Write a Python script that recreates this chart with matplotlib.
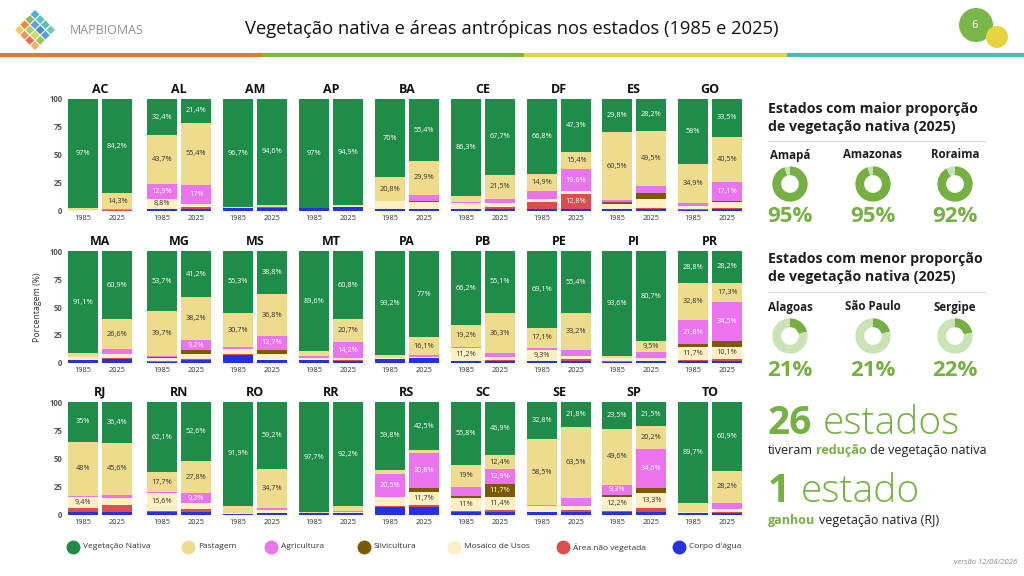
import matplotlib
matplotlib.use('Agg')
import matplotlib.pyplot as plt
from matplotlib.patches import Circle, Polygon, Rectangle
from matplotlib.lines import Line2D

plt.rcParams['font.family'] = ['Open Sans', 'DejaVu Sans']

# ---------------- data ----------------
states = ['AC', 'AL', 'AM', 'AP', 'BA', 'CE', 'DF', 'ES', 'GO',
          'MA', 'MG', 'MS', 'MT', 'PA', 'PB', 'PE', 'PI', 'PR',
          'RJ', 'RN', 'RO', 'RR', 'RS', 'SC', 'SE', 'SP', 'TO']
years = ['1985', '2025']

# stacking order bottom -> top
categories = ["Corpo d'água", 'Área não vegetada', 'Mosaico de Usos', 'Silvicultura',
              'Agricultura', 'Pastagem', 'Vegetação Nativa']
colors = ['#2532e4', '#db4d4f', '#ffefc3', '#7a5900', '#e974ed', '#eddb8e', '#1f8d49']
label_colors = ['white', 'white', '#333333', 'white', 'white', '#333333', 'white']

agua_1985 = [0.3, 1.7, 2.6, 2.5, 1.5, 1.7, 1.8, 1.5, 1.3, 2.8, 1.2, 7.5, 2.4, 3.7, 1.6, 1.7, 1.3, 2.0,
             3.0, 2.7, 1.0, 1.5, 7.2, 2.4, 2.5, 2.4, 1.4]
naoveg_1985 = [0.1, 0.5, 0.1, 0.1, 0.2, 0.5, 6.5, 0.5, 0.3, 0.3, 0.8, 0.3, 0.3, 0.2, 0.3, 0.3, 0.3, 0.9,
               3.4, 1.2, 0.2, 0.1, 1.2, 1.3, 0.4, 1.5, 0.3]
mosaico_1985 = [0.4, 8.8, 0.2, 0.2, 7.0, 5.0, 2.5, 4.2, 2.5, 2.0, 2.8, 4.4, 2.0, 0.8, 11.2, 9.3, 2.5, 11.7,
                9.4, 15.6, 0.6, 0.2, 7.5, 11.0, 5.0, 12.2, 0.8]
silv_1985 = [0, 0, 0, 0, 0, 0, 0, 2.0, 0, 0, 0.3, 0, 0, 0, 0, 0, 0, 2.0,
             0, 0, 0, 0, 0.3, 2.5, 0, 1.5, 0]
agric_1985 = [0.1, 12.9, 0, 0, 0.5, 0.5, 7.5, 1.5, 3.0, 0.2, 1.5, 1.8, 1.2, 0.1, 1.5, 2.5, 0.3, 21.8,
              1.2, 0.7, 0.3, 0, 20.5, 8.0, 0.8, 9.3, 0.3]
past_1985 = [2.1, 43.7, 0.4, 0.2, 20.8, 6.0, 14.9, 60.5, 34.9, 3.6, 39.7, 30.7, 4.5, 2.0, 19.2, 17.1, 2.0, 32.8,
             48.0, 17.7, 6.0, 0.5, 3.5, 19.0, 58.5, 49.6, 7.5]
nativa_1985 = [97.0, 32.4, 96.7, 97.0, 70.0, 86.3, 66.8, 29.8, 58.0, 91.1, 53.7, 55.3, 89.6, 93.2, 66.2, 69.1, 93.6, 28.8,
               35.0, 62.1, 91.9, 97.7, 59.8, 55.8, 32.8, 23.5, 89.7]

agua_2025 = [0.4, 1.6, 3.0, 3.2, 1.6, 2.0, 2.0, 1.5, 1.9, 3.7, 2.4, 2.4, 2.0, 4.1, 1.6, 1.7, 1.6, 2.1,
             3.0, 2.8, 1.6, 1.8, 7.2, 2.5, 2.7, 2.9, 1.9]
naoveg_2025 = [0.1, 1.8, 0.2, 0.4, 0.6, 1.5, 12.8, 1.5, 0.5, 0.5, 1.5, 0.5, 0.3, 0.3, 1.5, 1.7, 0.5, 1.8,
               5.7, 2.5, 0.5, 0.2, 1.5, 2.2, 1.5, 3.0, 0.5]
mosaico_2025 = [0.7, 2.8, 0.4, 0.5, 6.0, 3.5, 2.9, 8.0, 6.0, 3.5, 4.5, 5.3, 1.8, 1.2, 2.0, 3.0, 2.7, 10.1,
                6.0, 5.0, 2.0, 0.8, 11.7, 11.4, 4.0, 13.3, 3.0]
silv_2025 = [0, 0, 0, 0, 0.5, 0.3, 0, 5.4, 0.5, 0.3, 3.0, 3.5, 0.2, 0, 0, 0, 0, 6.0,
             0, 0, 0, 0, 3.8, 11.7, 0, 4.5, 0]
agric_2025 = [0.3, 17.0, 0.3, 0, 6.0, 3.5, 19.6, 5.9, 17.1, 4.5, 9.2, 12.7, 14.2, 1.3, 3.5, 5.0, 5.0, 34.5,
              3.3, 9.3, 2.0, 1.0, 30.8, 12.9, 6.5, 34.6, 5.5]
past_2025 = [14.3, 55.4, 1.5, 1.0, 29.9, 21.5, 15.4, 49.5, 40.5, 26.6, 38.2, 36.8, 20.7, 16.1, 36.3, 33.2, 9.5, 17.3,
             45.6, 27.8, 34.7, 4.0, 2.5, 12.4, 63.5, 20.2, 28.2]
nativa_2025 = [84.2, 21.4, 94.6, 94.9, 55.4, 67.7, 47.3, 28.2, 33.5, 60.9, 41.2, 38.8, 60.8, 77.0, 55.1, 55.4, 80.7, 28.2,
               36.4, 52.6, 59.2, 92.2, 42.5, 46.9, 21.8, 21.5, 60.9]

series_1985 = [agua_1985, naoveg_1985, mosaico_1985, silv_1985, agric_1985, past_1985, nativa_1985]
series_2025 = [agua_2025, naoveg_2025, mosaico_2025, silv_2025, agric_2025, past_2025, nativa_2025]

yticks = [0, 25, 50, 75, 100]

top_names = ['Amapá', 'Amazonas', 'Roraima']
top_values = [95, 95, 92]
low_names = ['Alagoas', 'São Paulo', 'Sergipe']
low_values = [21, 21, 22]

# ---------------- figure ----------------
W, H = 1024, 576
fig = plt.figure(figsize=(W / 100, H / 100), dpi=100)
fig.patch.set_facecolor('white')
renderer = fig.canvas.get_renderer()

bg = fig.add_axes([0, 0, 1, 1], zorder=0)
bg.set_xlim(0, W)
bg.set_ylim(H, 0)
bg.axis('off')
bg.patch.set_alpha(0)


def fx(x):
    return x / W


def fy(y):
    return 1 - y / H


def fmt(v):
    if abs(v - round(v)) < 1e-9:
        return f'{int(round(v))}%'
    return f'{v:.1f}'.replace('.', ',') + '%'


# ---------- header ----------
logo_cols = ['#3aa7d8', '#7ab648', '#e8792b', '#f2c94c', '#3fbfb5', '#5b8fd1',
             '#9ccc65', '#f08a4b', '#4db6ac', '#2f80c7', '#c9d84a', '#e85d3b',
             '#66c2a5', '#3d9ad1', '#8bc34a', '#f4a261']
k = 0
for i in range(4):
    for j in range(4):
        cx = 35 + (i - j) * 5.2
        cy = 30 + (i + j - 3) * 5.2
        d = 4.8
        bg.add_patch(Polygon([[cx, cy - d], [cx + d, cy], [cx, cy + d], [cx - d, cy]],
                             closed=True, facecolor=logo_cols[k], edgecolor='white', lw=0.4, alpha=0.9))
        k += 1
bg.text(70, 31, 'MAPBIOMAS', fontsize=9, color='#8f8f8f', va='center', ha='left')
bg.text(512, 29, 'Vegetação nativa e áreas antrópicas nos estados (1985 e 2025)',
        fontsize=13.2, color='#111111', va='center', ha='center')
bg.add_patch(Circle((976, 25), 17, facecolor='#7ab648', edgecolor='none'))
bg.add_patch(Circle((997, 37), 11, facecolor='#e6d43c', edgecolor='none'))
bg.text(975, 25, '6', fontsize=8, color='white', ha='center', va='center')
for x0, x1, c in [(0, 262, '#e8792b'), (262, 524, '#7ab648'), (524, 787, '#e6d43c'), (787, 1024, '#3fbfb5')]:
    bg.add_patch(Rectangle((x0, 53), x1 - x0, 4, facecolor=c, edgecolor='none'))

# ---------- panels ----------
lefts = [68, 147, 223, 299, 375, 451, 527, 602, 678]
tops = [99, 251, 402]
bots = [211, 363, 515]
pw = 64
for i, st in enumerate(states):
    r, c = divmod(i, 9)
    ax = fig.add_axes([fx(lefts[c]), fy(bots[r]), pw / W, (bots[r] - tops[r]) / H], zorder=2)
    base = [0.0, 0.0]
    for kc in range(len(categories)):
        v = [series_1985[kc][i], series_2025[kc][i]]
        ax.bar([0, 1], v, bottom=base, width=0.86, color=colors[kc], linewidth=0)
        for j in range(2):
            if v[j] >= 8.5:
                ax.text(j, base[j] + v[j] / 2, fmt(v[j]), ha='center', va='center',
                        fontsize=5.3, color=label_colors[kc])
        base = [base[0] + v[0], base[1] + v[1]]
    ax.set_xlim(-0.43, 1.43)
    ax.set_ylim(0, 100)
    for s in ax.spines.values():
        s.set_visible(False)
    ax.set_xticks([0, 1])
    ax.set_xticklabels(years, fontsize=5.3, color='#333333')
    ax.tick_params(axis='x', length=0, pad=3)
    if c == 0:
        ax.set_yticks(yticks)
        ax.set_yticklabels([str(t) for t in yticks], fontsize=5.6, color='#555555', fontweight='bold')
        ax.tick_params(axis='y', length=0, pad=4)
    else:
        ax.set_yticks([])
    ax.set_title(st, fontsize=9, fontweight='bold', color='#111111', pad=4.5)
    ax.patch.set_alpha(0)

bg.text(38, 307, 'Porcentagem (%)', rotation=90, fontsize=6.3, color='#333333', ha='center', va='center')

# ---------- legend ----------
leg_x = [73, 188, 271, 364, 454, 563, 679]
for n, idx in enumerate(range(len(categories) - 1, -1, -1)):
    fig.add_artist(Line2D([fx(leg_x[n])], [fy(547)], marker='o', markersize=9, color=colors[idx],
                          linestyle='none', transform=fig.transFigure))
    bg.text(leg_x[n] + 10, 547, categories[idx], fontsize=6, color='#333333', va='center', ha='left')

# ---------- right side ----------
GREEN = '#76b043'
LIGHT = '#c9e2b6'
dark = '#1e1e1e'


def section(y_title, y_sep, y_name, y_donut, y_pct, title, names, values):
    bg.text(768, y_title, title, fontsize=10.2, fontweight='bold', color=dark, va='center', ha='left',
            linespacing=1.45)
    bg.plot([768, 985], [y_sep, y_sep], color='#dddddd', lw=1)
    for n, (nm, v) in enumerate(zip(names, values)):
        cx = [790, 873, 955][n]
        bg.text(cx, y_name, nm, fontsize=8.3, fontweight='bold', color=dark, ha='center', va='center')
        r = 18
        dax = fig.add_axes([fx(cx - r), fy(y_donut + r), 2 * r / W, 2 * r / H], zorder=3)
        dax.pie([v, 100 - v], colors=[GREEN, LIGHT], startangle=90, counterclock=False,
                wedgeprops=dict(width=0.5, edgecolor='none'))
        dax.set_xlim(-1.02, 1.02)
        dax.set_ylim(-1.02, 1.02)
        dax.set_aspect('equal')
        dax.axis('off')
        bg.text(cx, y_pct, f'{v}%', fontsize=16, fontweight='bold', color=GREEN, ha='center', va='center')


section(118, 141, 155, 184, 217, 'Estados com maior proporção\nde vegetação nativa (2025)', top_names, top_values)
section(268, 292, 307, 336, 370, 'Estados com menor proporção\nde vegetação nativa (2025)', low_names, low_values)


def rich(x, y, parts, size):
    for txt, color, weight in parts:
        if txt == ' ':
            x += size * 1.389 * 0.27
            continue
        t = bg.text(x, y, txt, fontsize=size, color=color, fontweight=weight, ha='left', va='baseline')
        bb = t.get_window_extent(renderer=renderer)
        x += bb.width


rich(768, 434, [('26', GREEN, 'bold'), (' ', None, None), ('estados', GREEN, 'light')], 28)
rich(768, 454, [('tiveram', dark, 'normal'), (' ', None, None), ('redução', GREEN, 'bold'),
                (' ', None, None), ('de vegetação nativa', dark, 'normal')], 9)
rich(768, 502, [('1', GREEN, 'bold'), (' ', None, None), ('estado', GREEN, 'light')], 28)
rich(768, 524, [('ganhou', GREEN, 'bold'), (' ', None, None), ('vegetação nativa (RJ)', dark, 'normal')], 9)
bg.text(1017, 563, 'versão 12/08/2026', fontsize=5.5, color='#888888', style='italic', ha='right', va='center')

fig.savefig('out.png', dpi=100, facecolor='white')
